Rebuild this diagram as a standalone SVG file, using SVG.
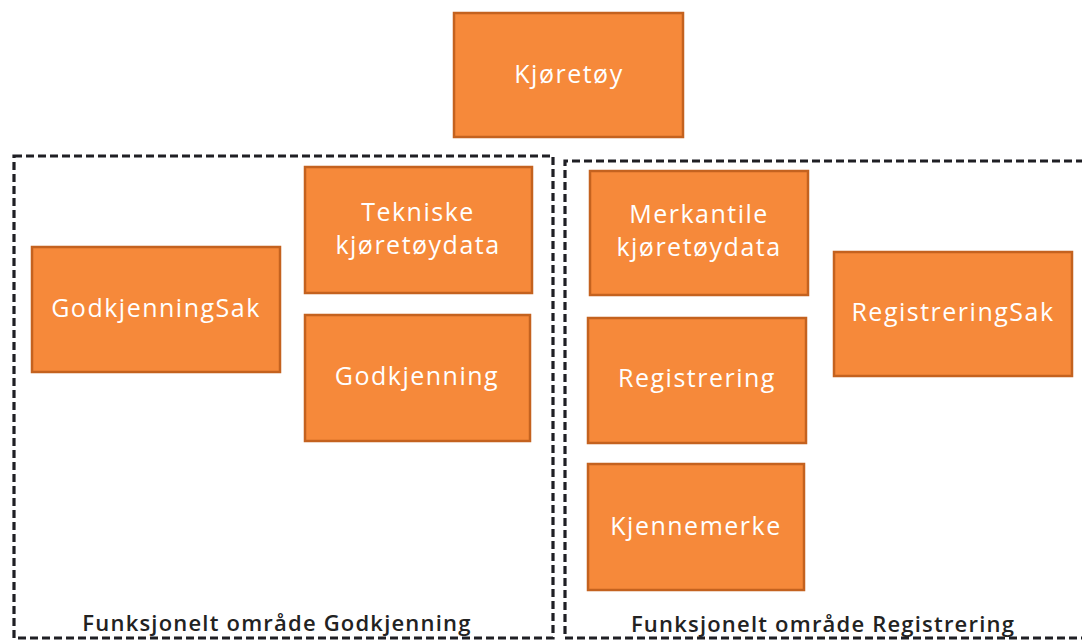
<svg xmlns="http://www.w3.org/2000/svg" width="1082" height="644" viewBox="0 0 1082 644">
<style>
.box{fill:#F6893A;stroke:#C4621F;stroke-width:2.5}
.t{font-family:"Open Sans","DejaVu Sans",sans-serif;font-size:25px;letter-spacing:1.5px;fill:#ffffff;text-anchor:middle}
.area{fill:none;stroke:#1f1f24;stroke-width:3.2;stroke-dasharray:8 4}
.lbl{font-family:"Open Sans","DejaVu Sans",sans-serif;font-size:22px;letter-spacing:1.2px;font-weight:600;fill:#222;text-anchor:middle}
</style>
<rect width="1082" height="644" fill="#ffffff"/>
<g id="connectors"></g>
<g id="area-godkjenning">
<rect class="area" x="14" y="156" width="539" height="482"/>
<text class="lbl" x="277" y="631">Funksjonelt område Godkjenning</text>
</g>
<g id="area-registrering">
<path class="area" d="M1084 161 H565 V638 H1084"/>
<text class="lbl" x="823" y="632">Funksjonelt område Registrering</text>
</g>
<g id="kjoretoy">
<rect class="box" x="454" y="13" width="229" height="124"/>
<text class="t" x="569" y="83">Kjøretøy</text>
</g>
<g id="godkjenningsak">
<rect class="box" x="32" y="247" width="248" height="125"/>
<text class="t" x="156" y="317">GodkjenningSak</text>
</g>
<g id="tekniske">
<rect class="box" x="305" y="167" width="227" height="126"/>
<text class="t" x="418" y="221">Tekniske</text>
<text class="t" x="418" y="254">kjøretøydata</text>
</g>
<g id="godkjenning">
<rect class="box" x="305" y="315" width="225" height="126"/>
<text class="t" x="417" y="385">Godkjenning</text>
</g>
<g id="merkantile">
<rect class="box" x="590" y="171" width="218" height="124"/>
<text class="t" x="699" y="223">Merkantile</text>
<text class="t" x="699" y="256">kjøretøydata</text>
</g>
<g id="registrering">
<rect class="box" x="588" y="318" width="218" height="125"/>
<text class="t" x="697" y="387">Registrering</text>
</g>
<g id="kjennemerke">
<rect class="box" x="588" y="464" width="216" height="126"/>
<text class="t" x="696" y="535">Kjennemerke</text>
</g>
<g id="registreringsak">
<rect class="box" x="834" y="252" width="238" height="124"/>
<text class="t" x="953" y="321">RegistreringSak</text>
</g>
</svg>
